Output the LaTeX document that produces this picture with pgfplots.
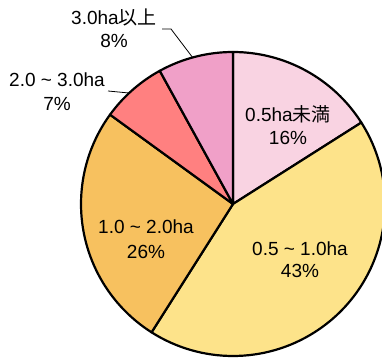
\documentclass[border=0pt]{standalone}
\usepackage{pgfplots}
\pgfplotsset{compat=1.18}
\usepackage{fontspec}
\setmainfont{Liberation Sans}
\newfontfamily\cjk{Noto Sans CJK JP}
\definecolor{cA}{RGB}{249,211,226}
\definecolor{cB}{RGB}{253,227,138}
\definecolor{cC}{RGB}{247,193,95}
\definecolor{cD}{RGB}{255,128,128}
\definecolor{cE}{RGB}{240,160,200}
% shares (%), clockwise from 12 o'clock
\def\vA{16}\def\vB{43}\def\vC{26}\def\vD{7}\def\vE{8}
\pgfmathsetmacro\aA{90}
\pgfmathsetmacro\aB{90-3.6*\vA}
\pgfmathsetmacro\aC{\aB-3.6*\vB}
\pgfmathsetmacro\aD{\aC-3.6*\vC}
\pgfmathsetmacro\aE{\aD-3.6*\vD}
\pgfmathsetmacro\aF{\aE-3.6*\vE}
\begin{document}
\begin{tikzpicture}
\begin{axis}[hide axis, scale only axis, width=382bp, height=360bp,
  xmin=0, xmax=382, ymin=0, ymax=360, clip=true]
\def\cx{233}\def\cy{156}
\tikzset{wedge/.style={draw=black, line width=2.2bp, line join=round}}
\filldraw[wedge, fill=cA] (axis cs:\cx,\cy) -- ++(\aA:152bp) arc[start angle=\aA, end angle=\aB, radius=152bp] -- cycle;
\filldraw[wedge, fill=cB] (axis cs:\cx,\cy) -- ++(\aB:152bp) arc[start angle=\aB, end angle=\aC, radius=152bp] -- cycle;
\filldraw[wedge, fill=cC] (axis cs:\cx,\cy) -- ++(\aC:152bp) arc[start angle=\aC, end angle=\aD, radius=152bp] -- cycle;
\filldraw[wedge, fill=cD] (axis cs:\cx,\cy) -- ++(\aD:152bp) arc[start angle=\aD, end angle=\aE, radius=152bp] -- cycle;
\filldraw[wedge, fill=cE] (axis cs:\cx,\cy) -- ++(\aE:152bp) arc[start angle=\aE, end angle=\aF, radius=152bp] -- cycle;
\tikzset{lab/.style={anchor=base, font=\fontsize{19bp}{23bp}\selectfont, inner sep=0pt}}
\node[lab] at (axis cs:288,239) {0.5ha{\cjk 未満}};
\node[lab] at (axis cs:288,216) {16\%};
\node[lab] at (axis cs:300,105) {0.5 \char"007E{} 1.0ha};
\node[lab] at (axis cs:300,83) {43\%};
\node[lab] at (axis cs:146,127) {1.0 \char"007E{} 2.0ha};
\node[lab] at (axis cs:146,102) {26\%};
\node[lab] at (axis cs:57,274) {2.0 \char"007E{} 3.0ha};
\node[lab] at (axis cs:57,250) {7\%};
\node[lab] at (axis cs:114,336) {3.0ha{\cjk 以上}};
\node[lab] at (axis cs:114,313) {8\%};
\draw[black, line width=0.8bp] (axis cs:162,331) -- (axis cs:171,331) -- (axis cs:193,302);
\draw[black, line width=0.8bp] (axis cs:108,269) -- (axis cs:129,267);
\end{axis}
\pgfresetboundingbox
\path (current axis.south west) rectangle (current axis.north east);
\end{tikzpicture}
\end{document}
